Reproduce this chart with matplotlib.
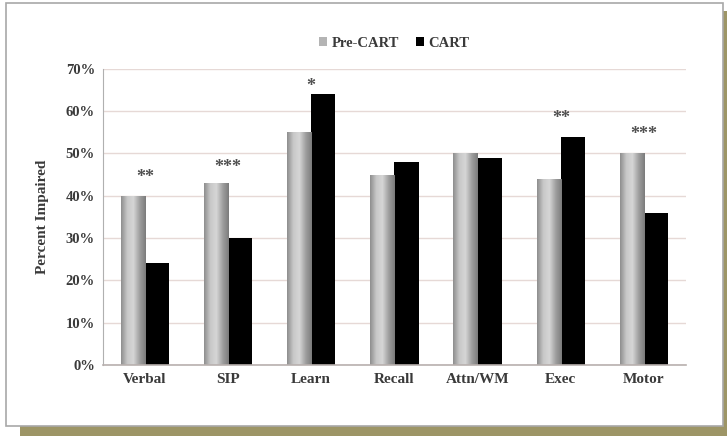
import matplotlib.pyplot as plt
import matplotlib.patches as mpatches
from matplotlib.colors import LinearSegmentedColormap
import numpy as np

domains = ['Verbal', 'SIP', 'Learn', 'Recall', 'Attn/WM', 'Exec', 'Motor']
pre_cart = [40, 43, 55, 45, 50, 44, 50]
cart = [24, 30, 64, 48, 49, 54, 36]
# significance marks and the height they sit at
stars = ['**', '***', '*', '', '', '**', '***']
star_y = [44.4, 46.8, 65.8, 0, 0, 58.2, 54.5]
yticks = [0, 10, 20, 30, 40, 50, 60, 70]

font = ['Liberation Serif', 'DejaVu Serif']
txt = '#3a3a3a'

fig = plt.figure(figsize=(7.27, 4.36), dpi=100)

# paper panel with olive drop shadow
fig.patches.append(mpatches.Rectangle((0.028, 0.0), 0.972, 0.975, transform=fig.transFigure,
                                      facecolor='#9d9566', edgecolor='none', zorder=-3))
fig.patches.append(mpatches.Rectangle((0.008, 0.023), 0.986, 0.970, transform=fig.transFigure,
                                      facecolor='white', edgecolor='#a8a8a8', linewidth=1.2, zorder=-2))

ax = fig.add_axes([0.142, 0.163, 0.801, 0.679])
ax.set_facecolor('none')

x = np.arange(len(domains))
w = 0.29
b_pre = ax.bar(x - w / 2, pre_cart, w, color='#b4b4b4', label='Pre-CART', zorder=2)
b_cart = ax.bar(x + w / 2, cart, w, color='black', label='CART', zorder=2)

# metallic gradient on the grey bars
grad = LinearSegmentedColormap.from_list('g', ['#8e8e8e', '#c8c8c8', '#d6d6d6', '#a0a0a0', '#7c7c7c'])
strip = np.linspace(0, 1, 64).reshape(1, -1)
for r in b_pre:
    im = ax.imshow(strip, cmap=grad, aspect='auto', zorder=2.5,
                   extent=[r.get_x(), r.get_x() + r.get_width(), 0, r.get_height()])
    im.set_clip_path(r)

for i, s in enumerate(stars):
    if s:
        ax.text(x[i], star_y[i], s, ha='center', va='center', fontsize=13,
                fontweight='bold', color='#505050', family=font)

ax.set_xlim(-0.5, len(domains) - 0.5)
ax.set_ylim(0, 70)
ax.set_yticks(yticks)
ax.set_yticklabels([f'{v}%' for v in yticks], family=font, fontsize=10.5,
                   fontweight='bold', color=txt)
ax.set_xticks(x)
ax.set_xticklabels(domains, family=font, fontsize=11, fontweight='bold', color=txt)
ax.tick_params(length=0, pad=6)
ax.set_ylabel('Percent Impaired', family=font, fontsize=11, fontweight='bold',
              color=txt, labelpad=12)

ax.yaxis.grid(True, color='#e6d9d6', linewidth=1.0, zorder=0)
ax.set_axisbelow(True)
for side in ['top', 'right']:
    ax.spines[side].set_visible(False)
ax.spines['left'].set_color('#b0b0b0')
ax.spines['bottom'].set_color('#b8b0ae')
ax.spines['bottom'].set_linewidth(1.2)

leg = ax.legend(loc='lower center', bbox_to_anchor=(0.5, 1.02), ncol=2, frameon=False,
                handlelength=0.55, handleheight=0.55, handletextpad=0.3, columnspacing=1.2,
                prop={'family': font, 'size': 10.5, 'weight': 'bold'})
for t in leg.get_texts():
    t.set_color(txt)

fig.savefig('out.png', dpi=100)
